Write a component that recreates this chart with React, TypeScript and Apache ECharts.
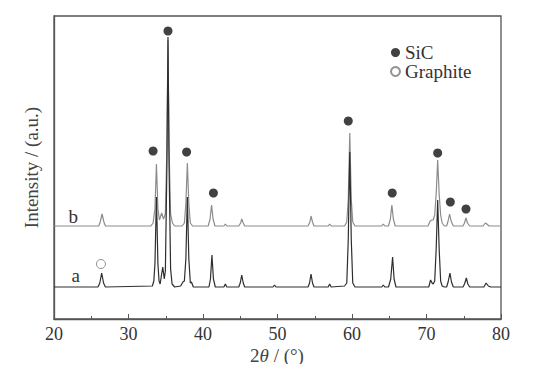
import React, { useEffect, useRef } from "react";
import * as echarts from "echarts";

// 2θ (deg), intensity (arbitrary, offset) — trace b (upper, grey)
const traceB: [number, number][] = [
  [20, 93], [26.0, 93], [26.2, 97], [26.45, 105], [26.7, 97], [26.9, 93],
  [33.0, 93], [33.3, 96], [33.55, 110], [33.75, 155], [33.95, 110], [34.15, 99],
  [34.45, 106], [34.7, 100], [34.95, 105], [35.15, 170], [35.3, 279], [35.45, 170],
  [35.65, 105], [35.9, 96], [36.2, 93],
  [37.2, 93], [37.5, 96], [37.7, 115], [37.9, 156], [38.1, 115], [38.3, 96], [38.6, 93],
  [40.7, 93], [40.95, 100], [41.15, 114], [41.35, 100], [41.6, 93],
  [42.8, 93], [43.0, 95], [43.2, 93],
  [44.8, 93], [45.05, 96], [45.2, 100], [45.4, 96], [45.6, 93],
  [54.1, 93], [54.35, 97], [54.5, 103], [54.7, 97], [54.9, 93],
  [56.8, 93], [57.0, 95], [57.2, 93],
  [59.0, 93], [59.3, 97], [59.5, 120], [59.7, 186], [59.9, 120], [60.1, 97], [60.4, 93],
  [64.0, 93], [64.2, 95], [64.4, 93],
  [64.9, 93], [65.15, 100], [65.35, 114], [65.55, 100], [65.8, 93],
  [70.2, 93], [70.5, 98], [70.7, 99], [70.9, 99], [71.1, 104], [71.3, 125], [71.5, 159],
  [71.7, 125], [71.9, 104], [72.1, 96], [72.4, 93],
  [72.7, 93], [72.9, 98], [73.1, 105], [73.3, 98], [73.6, 93],
  [74.9, 93], [75.1, 96], [75.3, 101], [75.5, 96], [75.8, 93],
  [77.6, 93], [77.9, 96], [78.1, 95], [78.4, 93], [80, 93],
];

// trace a (lower, dark)
const traceA: [number, number][] = [
  [20, 32], [25.9, 32], [26.15, 36], [26.4, 46], [26.65, 36], [26.9, 32],
  [33.2, 33], [33.4, 38], [33.55, 55], [33.75, 122], [33.95, 55], [34.1, 38], [34.25, 35],
  [34.45, 45], [34.6, 52], [34.8, 40], [34.95, 48], [35.15, 150], [35.3, 282], [35.45, 150],
  [35.65, 50], [35.85, 35], [36.2, 32],
  [37.0, 33], [37.3, 37], [37.5, 38], [37.7, 60], [37.9, 122], [38.1, 60], [38.3, 36],
  [38.45, 37], [38.7, 32],
  [40.8, 32], [41.0, 40], [41.2, 64], [41.4, 40], [41.65, 32],
  [42.8, 32], [43.0, 35], [43.2, 32],
  [44.8, 32], [45.0, 36], [45.2, 44], [45.4, 36], [45.6, 32],
  [49.4, 32], [49.6, 34], [49.8, 32],
  [54.1, 32], [54.3, 36], [54.5, 45], [54.7, 36], [54.9, 32],
  [56.8, 32], [57.0, 35], [57.2, 32],
  [59.0, 33], [59.3, 36], [59.5, 80], [59.7, 167], [59.9, 80], [60.1, 36], [60.4, 32],
  [64.0, 32], [64.2, 34], [64.4, 32],
  [64.9, 32], [65.2, 40], [65.45, 62], [65.65, 40], [65.9, 32],
  [70.3, 32], [70.55, 39], [70.75, 36], [70.9, 35], [71.1, 38], [71.3, 70], [71.5, 119],
  [71.7, 70], [71.9, 38], [72.1, 33], [72.4, 32],
  [72.7, 32], [72.9, 37], [73.15, 46], [73.35, 37], [73.6, 32],
  [74.9, 32], [75.1, 35], [75.35, 41], [75.55, 35], [75.8, 32],
  [77.7, 32], [78.0, 36], [78.3, 33], [78.6, 32], [80, 32],
];

// phase markers
const sicMarks: [number, number][] = [
  [33.3, 168], [35.3, 288], [37.8, 167], [41.4, 126], [59.5, 198],
  [65.4, 126], [71.5, 166], [73.2, 117], [75.3, 110],
];
const graphiteMarks: [number, number][] = [[26.3, 55]];

const xTicks = { min: 20, max: 80, interval: 10 };
const traceLabels = [
  { name: "b", x: 22.6, y: 103 },
  { name: "a", x: 22.9, y: 44 },
];

const FONT = "Liberation Serif";

export default function App() {
  const ref = useRef<HTMLDivElement>(null);
  useEffect(() => {
    if (!ref.current) return;
    const chart = echarts.init(ref.current, undefined, { renderer: "svg" });
    chart.setOption({
      animation: false,
      backgroundColor: "#ffffff",
      grid: {
        left: 54,
        right: 32,
        top: 16,
        bottom: 53,
        show: true,
        borderColor: "#555",
        borderWidth: 1.3,
      },
      legend: {
        orient: "vertical",
        left: 385,
        top: 38,
        icon: "circle",
        itemWidth: 9,
        itemHeight: 9,
        itemGap: 0,
        data: ["SiC", "Graphite"],
        textStyle: { fontFamily: FONT, fontSize: 19, color: "#333" },
      },
      xAxis: {
        type: "value",
        min: xTicks.min,
        max: xTicks.max,
        interval: xTicks.interval,
        axisLine: { lineStyle: { color: "#555", width: 1.3 } },
        axisTick: { inside: true, length: 5, lineStyle: { color: "#555" } },
        minorTick: { show: true, splitNumber: 2, length: 3, lineStyle: { color: "#555" } },
        axisLabel: { fontFamily: FONT, fontSize: 18, color: "#333", margin: 6 },
        splitLine: { show: false },
      },
      yAxis: {
        type: "value",
        min: 0,
        max: 303,
        name: "Intensity / (a.u.)",
        nameLocation: "middle",
        nameGap: 13,
        nameTextStyle: { fontFamily: FONT, fontSize: 19, color: "#444" },
        axisLine: { show: true, lineStyle: { color: "#555", width: 1.3 } },
        axisTick: { show: false },
        axisLabel: { show: false },
        splitLine: { show: false },
      },
      graphic: [
        ...traceLabels.map((t) => ({
          type: "text",
          z: 100,
          style: {
            text: t.name,
            fontFamily: FONT,
            fontSize: 19,
            fill: "#333",
            x: 54 + ((t.x - 20) / 60) * 447,
            y: 319 - (t.y / 303) * 303,
            textAlign: "center",
            textVerticalAlign: "middle",
          },
        })),
        {
          type: "text",
          z: 100,
          style: {
            text: "2{i|θ} / (°)",
            x: 277,
            y: 355,
            textAlign: "center",
            textVerticalAlign: "middle",
            fontFamily: FONT,
            fontSize: 19,
            fill: "#444",
            rich: {
              i: { fontFamily: FONT, fontSize: 19, fontStyle: "italic", fill: "#444" },
            },
          },
        },
      ],
      series: [
        {
          type: "line",
          name: "b",
          data: traceB,
          showSymbol: false,
          symbol: "none",
          lineStyle: { color: "#8c8c8c", width: 1.2 },
          z: 2,
        },
        {
          type: "line",
          name: "a",
          data: traceA,
          showSymbol: false,
          symbol: "none",
          lineStyle: { color: "#2e2e2e", width: 1.2 },
          z: 3,
        },
        {
          type: "scatter",
          name: "SiC",
          data: sicMarks,
          symbol: "circle",
          symbolSize: 9,
          itemStyle: { color: "#111" },
          z: 4,
        },
        {
          type: "scatter",
          name: "Graphite",
          data: graphiteMarks,
          symbol: "circle",
          symbolSize: 9,
          itemStyle: { color: "#fff", borderColor: "#777", borderWidth: 1 },
          z: 4,
        },
      ],
    });
    return () => chart.dispose();
  }, []);
  return <div ref={ref} style={{ width: 533, height: 372, margin: -8 }} />;
}
